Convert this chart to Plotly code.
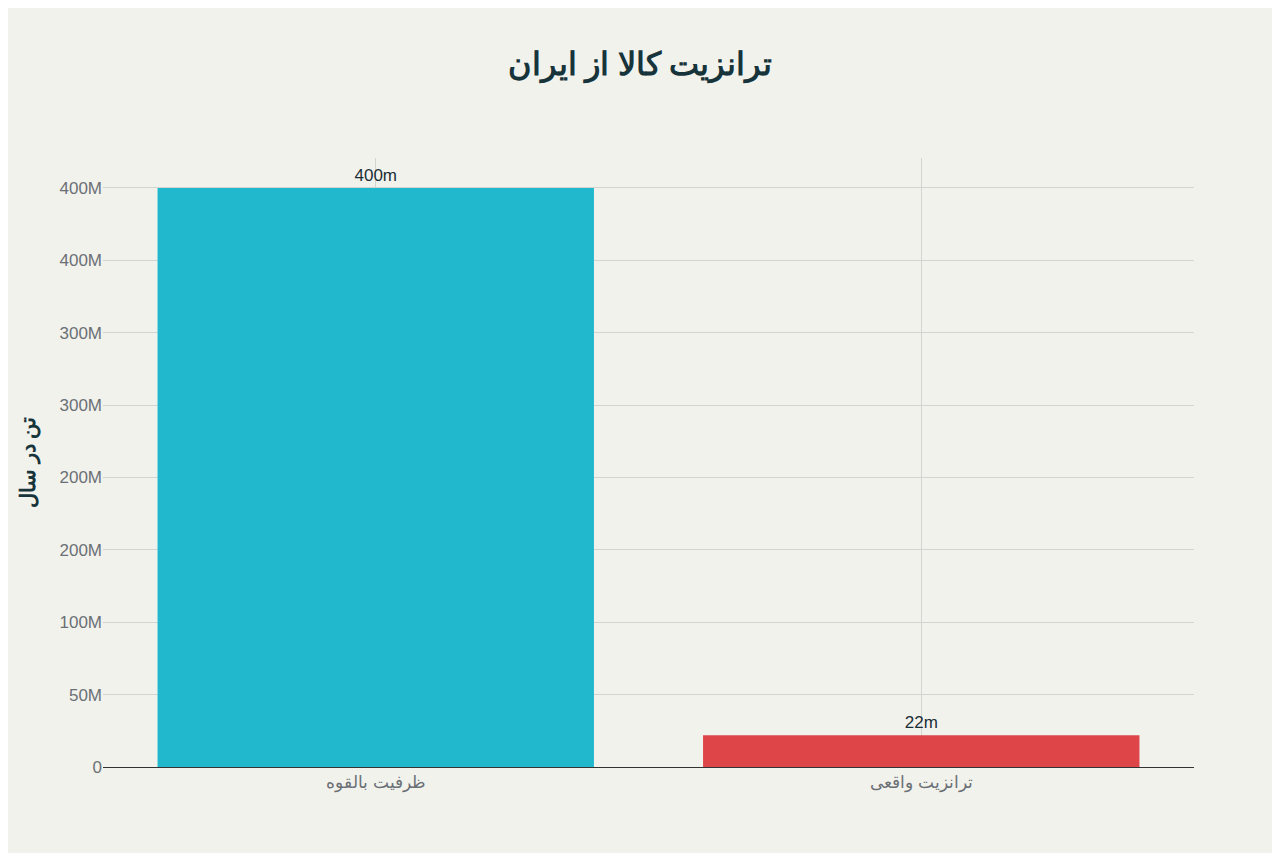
import plotly.graph_objects as go

categories = ["ظرفیت بالقوه", "ترانزیت واقعی"]
values = [400e6, 22e6]
labels = ["400m", "22m"]
colors = ["#21b8cd", "#dd4548"]

fig = go.Figure(go.Bar(
    x=categories, y=values, text=labels, textposition="outside",
    marker=dict(color=colors, line=dict(width=0)), width=0.8,
    textfont=dict(size=17, color="#1a2e35", family="Liberation Sans"),
    cliponaxis=False,
))
fig.update_layout(
    width=1264, height=845,
    paper_bgcolor="#f2f2ed", plot_bgcolor="#f2f2ed",
    margin=dict(l=95, r=78, t=150, b=86),
    title=dict(text="<b>ترانزیت کالا از ایران</b>", x=0.5, xanchor="center", y=0.947,
               font=dict(size=32, color="#17343b", family="Noto Sans")),
    font=dict(family="Liberation Sans", color="#6b7075", size=17),
    showlegend=False,
)
fig.update_yaxes(range=[0, 420.7e6], dtick=50e6, tickformat=".1s",
                 gridcolor="#d3d3d0", zeroline=False, showline=False, ticks="",
                 title=dict(text="<b>تن در سال</b>", font=dict(size=21, color="#17343b", family="Noto Sans"), standoff=18))
fig.update_xaxes(showgrid=True, gridcolor="#d3d3d0", showline=True, linecolor="#333", ticks="")
fig.write_html("out.html")
